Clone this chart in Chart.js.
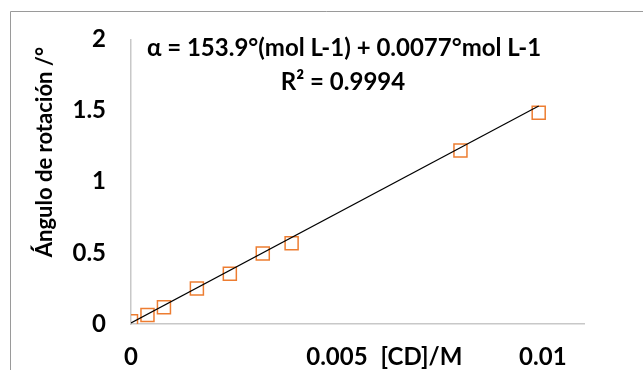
<!DOCTYPE html>
<html>
<head>
<meta charset="utf-8">
<script src="https://cdn.jsdelivr.net/npm/chart.js@4/dist/chart.umd.min.js"></script>
<style>
  html, body { margin: 0; padding: 0; background: #ffffff; }
  #wrap { position: relative; width: 643px; height: 370px; }
</style>
</head>
<body>
<div id="wrap"><canvas id="c" width="643" height="370"></canvas></div>
<script>
// Measured optical rotation vs. cyclodextrin concentration
const concentration = [0, 0.0004, 0.0008, 0.0016, 0.0024, 0.0032, 0.0039, 0.008, 0.0099];
const rotationAngle = [0.02, 0.064, 0.117, 0.25, 0.353, 0.495, 0.568, 1.22, 1.484];

// Axis ticks
const xTickValues = [0, 0.005, 0.01];
const xTickLabels = ['0', '0.005', '0.01'];
const yTickValues = [0, 0.5, 1, 1.5, 2];
const yTickLabels = ['0', '0.5', '1', '1.5', '2'];

// Linear fit
const fitSlope = 153.9;
const fitIntercept = 0.0077;
const fitR2 = 0.9994;

const xTitle = '[CD]/M';
const yTitle = 'Ángulo de rotación /°';
const equationText = 'α = ' + fitSlope + '°(mol L-1) + ' + fitIntercept + '°mol L-1';
const r2Text = 'R² = ' + fitR2;

const FONT = 'Lato, "Open Sans", sans-serif';
const TICK_SIZE = 24;
const EQ_SIZE = 24;
const Y_TITLE_SIZE = 22;

// Fit line over the measured concentration range
const fitX = [concentration[0], concentration[concentration.length - 1]];
const fitLine = fitX.map(x => ({ x: x, y: fitSlope * x + fitIntercept }));

const annotations = {
  id: 'annotations',
  afterDraw(chart) {
    const ctx = chart.ctx;
    ctx.save();
    // frame around the chart
    ctx.strokeStyle = '#9a9a9a';
    ctx.lineWidth = 1;
    ctx.beginPath();
    ctx.moveTo(10.5, 370);
    ctx.lineTo(10.5, 11.5);
    ctx.lineTo(643, 11.5);
    ctx.stroke();

    ctx.fillStyle = '#000000';
    ctx.textAlign = 'center';
    ctx.textBaseline = 'middle';
    // fit equation
    ctx.font = 'bold ' + EQ_SIZE + 'px ' + FONT;
    ctx.fillText(equationText, 344, 48);
    ctx.fillText(r2Text, 343, 82);
    // x axis title, placed on the tick label row
    ctx.font = 'bold ' + TICK_SIZE + 'px ' + FONT;
    ctx.fillText(xTitle, 421.5, 357);
    // y axis title
    ctx.font = 'bold ' + Y_TITLE_SIZE + 'px ' + FONT;
    ctx.translate(45, 152);
    ctx.rotate(-Math.PI / 2);
    ctx.fillText(yTitle, 0, 0);
    ctx.restore();
  }
};

new Chart(document.getElementById('c'), {
  type: 'scatter',
  data: {
    datasets: [
      {
        label: 'Ajuste lineal',
        type: 'line',
        data: fitLine,
        borderColor: '#000000',
        borderWidth: 1.2,
        pointRadius: 0,
        fill: false,
        order: 0
      },
      {
        label: 'Ángulo de rotación',
        data: concentration.map((x, i) => ({ x: x, y: rotationAngle[i] })),
        pointStyle: 'rect',
        pointRadius: 9.2,
        pointBorderColor: '#ED7D31',
        pointBackgroundColor: 'rgba(0,0,0,0)',
        pointBorderWidth: 1.5,
        showLine: false,
        order: 1
      }
    ]
  },
  options: {
    responsive: false,
    animation: false,
    devicePixelRatio: 1,
    layout: { padding: { top: 36, right: 59, left: 0, bottom: 0 } },
    plugins: { legend: { display: false }, tooltip: { enabled: false } },
    scales: {
      x: {
        type: 'linear',
        min: 0,
        max: 0.011,
        afterFit: s => { s.height = 46; },
        afterBuildTicks: s => { s.ticks = xTickValues.map(v => ({ value: v })); },
        grid: { display: false, drawTicks: false },
        border: { display: true, color: '#c8c8c8', width: 1.5 },
        ticks: {
          padding: 18.6,
          color: '#000000',
          font: { family: FONT, size: TICK_SIZE, weight: 'bold' },
          maxRotation: 0,
          callback: (v, i) => xTickLabels[i]
        }
      },
      y: {
        type: 'linear',
        min: 0,
        max: 2,
        afterFit: s => { s.width = 131; },
        afterBuildTicks: s => { s.ticks = yTickValues.map(v => ({ value: v })); },
        grid: { display: false, drawTicks: false },
        border: { display: true, color: '#c8c8c8', width: 1.5 },
        ticks: {
          padding: 25,
          color: '#000000',
          font: { family: FONT, size: TICK_SIZE, weight: 'bold' },
          callback: (v, i) => yTickLabels[i]
        }
      }
    }
  },
  plugins: [annotations]
});
</script>
</body>
</html>
